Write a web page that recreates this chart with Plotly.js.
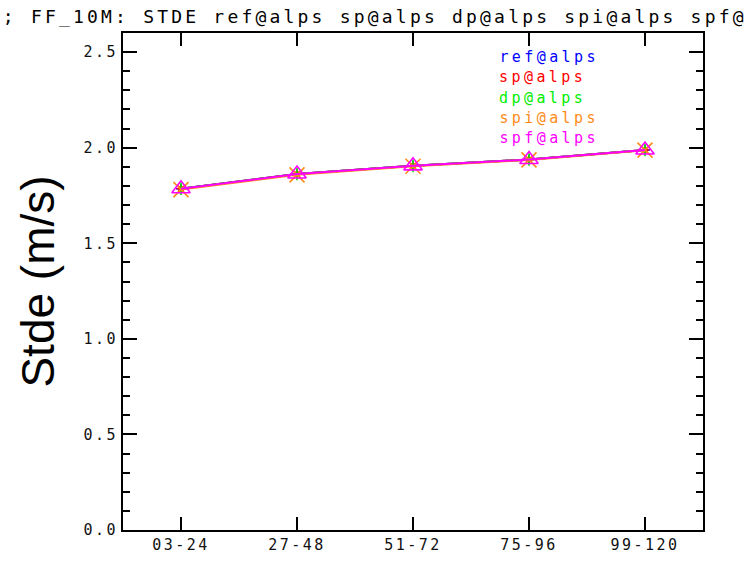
<!DOCTYPE html>
<html>
<head>
<meta charset="utf-8">
<script src="https://cdn.plot.ly/plotly-3.0.1.min.js"></script>
<style>
  html, body { margin: 0; padding: 0; background: #fff; }
  #chart { width: 744px; height: 564px; }
  .xtick text, .ytick text { letter-spacing: 2.5px; }
  g.annotation[data-index="0"] text { letter-spacing: 3.2px; }
  g.annotation[data-index="1"] text, g.annotation[data-index="2"] text,
  g.annotation[data-index="3"] text, g.annotation[data-index="4"] text,
  g.annotation[data-index="5"] text { letter-spacing: 3.4px; }
</style>
</head>
<body>
<div id="chart"></div>
<script>
// ---- data ----
const categories = ['03-24', '27-48', '51-72', '75-96', '99-120'];
const seriesNames = ['ref@alps', 'sp@alps', 'dp@alps', 'spi@alps', 'spf@alps'];
const refValues = [1.785, 1.862, 1.905, 1.938, 1.988];
const spValues  = [1.785, 1.862, 1.905, 1.938, 1.988];
const dpValues  = [1.785, 1.862, 1.905, 1.938, 1.988];
const spiValues = [1.781, 1.858, 1.903, 1.936, 1.987];
const spfValues = [1.785, 1.862, 1.905, 1.938, 1.988];
const titleText = '; FF_10M: STDE ref@alps sp@alps dp@alps spi@alps spf@alps';
const yTitle = 'Stde (m/s)';

// ---- styles ----
const colors = ['#0000ff', '#ff0000', '#00ee00', '#ff8c1a', '#ff00ff'];
const symbols = ['cross-thin-open', 'asterisk-open', 'line-ns-open', 'x-thin-open', 'triangle-up-open'];
const sizes = [7, 7, 9, 15, 16];
const allValues = [refValues, spValues, dpValues, spiValues, spfValues];

const W = 744, H = 564;
const M = { l: 123, r: 41, t: 33, b: 34 };
const pw = W - M.l - M.r, ph = H - M.t - M.b;
const px2x = p => (p - M.l) / pw;
const px2y = p => (H - M.b - p) / ph;

const traces = allValues.map((vals, i) => ({
  type: 'scatter',
  mode: 'lines+markers',
  x: categories.map((c, k) => k),
  y: vals,
  name: seriesNames[i],
  line: { color: colors[i], width: 2 },
  marker: { symbol: symbols[i], size: sizes[i], color: colors[i], line: { color: colors[i], width: 1.6 } },
  showlegend: false,
  hoverinfo: 'skip'
}));

// title: monospace with letter spacing -> ~14px per character, starting at x~4
const titleCharW = 14.0;
const annotations = [{
  text: titleText, xref: 'paper', yref: 'paper',
  x: px2x(4 + titleText.length * titleCharW / 2), y: px2y(16), xanchor: 'center', yanchor: 'middle',
  showarrow: false,
  font: { family: 'DejaVu Sans Mono', size: 18, color: '#000' }
}];
const legCharW = 12.4;
seriesNames.forEach((n, i) => {
  annotations.push({
    text: n, xref: 'paper', yref: 'paper',
    x: px2x(499 + n.length * legCharW / 2), y: px2y(57 + i * 20.3), xanchor: 'center', yanchor: 'middle',
    showarrow: false,
    font: { family: 'DejaVu Sans Mono', size: 15, color: colors[i] }
  });
});

const layout = {
  width: W, height: H,
  margin: M,
  paper_bgcolor: '#fff', plot_bgcolor: '#fff',
  showlegend: false,
  xaxis: {
    range: [-0.5, 4.5],
    tickmode: 'array',
    tickvals: categories.map((c, k) => k),
    ticktext: categories,
    ticks: 'inside', ticklen: 13, tickwidth: 2, tickcolor: '#000',
    showline: true, linecolor: '#000', linewidth: 2, mirror: 'ticks',
    showgrid: false, zeroline: false,
    tickfont: { family: 'DejaVu Sans Mono', size: 15, color: '#111' },
    fixedrange: true
  },
  yaxis: {
    range: [0, 2.6],
    tickmode: 'array',
    tickvals: [0, 0.5, 1.0, 1.5, 2.0, 2.5],
    ticktext: ['0.0', '0.5', '1.0', '1.5', '2.0', '2.5'],
    ticks: 'inside', ticklen: 14, tickwidth: 2, tickcolor: '#000',
    minor: { ticks: 'inside', ticklen: 7, tickwidth: 2, tickcolor: '#000', tickvals: [0.1,0.2,0.3,0.4,0.6,0.7,0.8,0.9,1.1,1.2,1.3,1.4,1.6,1.7,1.8,1.9,2.1,2.2,2.3,2.4,2.6], showgrid: false },
    showline: true, linecolor: '#000', linewidth: 2, mirror: 'ticks',
    showgrid: false, zeroline: false,
    tickfont: { family: 'DejaVu Sans Mono', size: 15, color: '#111' },
    title: { text: yTitle, font: { family: 'Liberation Sans', size: 46, color: '#000' }, standoff: 14 },
    fixedrange: true
  },
  annotations: annotations
};

Plotly.newPlot('chart', traces, layout, { staticPlot: true, displayModeBar: false });
</script>
</body>
</html>
